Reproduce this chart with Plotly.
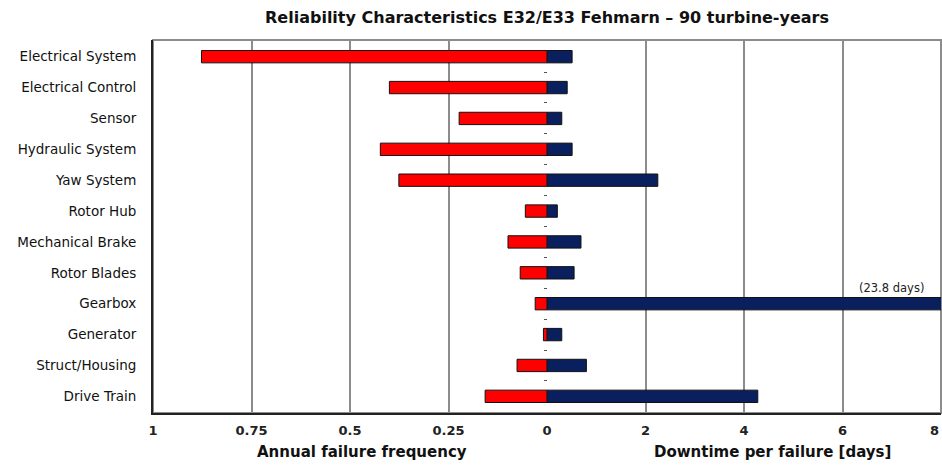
import plotly.graph_objects as go

categories = ["Electrical System", "Electrical Control", "Sensor", "Hydraulic System",
              "Yaw System", "Rotor Hub", "Mechanical Brake", "Rotor Blades",
              "Gearbox", "Generator", "Struct/Housing", "Drive Train"]
failure_freq = [0.877, 0.40, 0.223, 0.423, 0.376, 0.055, 0.099, 0.068, 0.030, 0.009, 0.076, 0.157]
downtime_days = [0.51, 0.41, 0.30, 0.51, 2.25, 0.21, 0.69, 0.55, 23.8, 0.30, 0.80, 4.28]

left_ticks = [1, 0.75, 0.5, 0.25, 0]
left_ticktext = ["1", "0.75", "0.5", "0.25", "0"]
right_ticks = [2, 4, 6]
right_ticktext = ["2", "4", "6"]
right_max = 8
divider_ticks = [i + 0.5 for i in range(len(categories) - 1)]

FONT = "DejaVu Sans, Verdana, sans-serif"
RED = "#FF0000"
NAVY = "#0A1F5E"
GRID = "#8C8C8C"
DARK = "#222222"

fig = go.Figure()
fig.add_trace(go.Bar(
    x=failure_freq, y=categories, orientation="h", xaxis="x", yaxis="y",
    marker=dict(color=RED, line=dict(color="#111111", width=1)),
    width=0.4, showlegend=False, hoverinfo="x+y"))
fig.add_trace(go.Bar(
    x=downtime_days, y=categories, orientation="h", xaxis="x2", yaxis="y",
    marker=dict(color=NAVY, line=dict(color="#111111", width=1)),
    width=0.4, showlegend=False, hoverinfo="x+y"))
# invisible helper trace so the centre divider-tick axis is drawn
fig.add_trace(go.Scatter(x=[None], y=[None], xaxis="x2", yaxis="y2",
                         showlegend=False, hoverinfo="skip"))

gearbox_idx = categories.index("Gearbox")
yrange = [len(categories) - 0.46, -0.54]
tickfont = dict(size=13, family=FONT, color=DARK, weight="bold")

fig.update_layout(
    width=942, height=466,
    margin=dict(l=153, r=1, t=40, b=53, pad=0, autoexpand=False),
    paper_bgcolor="white", plot_bgcolor="white",
    font=dict(family=FONT, color="black", size=12),
    title=dict(text="<b>Reliability Characteristics E32/E33 Fehmarn \u2013 90 turbine-years</b>",
               x=0.5, xref="paper", xanchor="center", y=1 - 17 / 466, yanchor="middle",
               font=dict(size=16, family=FONT, color="#111111")),
    xaxis=dict(domain=[0, 0.5], range=[1, 0], anchor="y", automargin=False,
               tickmode="array", tickvals=left_ticks, ticktext=left_ticktext,
               showgrid=True, gridcolor=GRID, gridwidth=1.5,
               zeroline=False, showline=True, linecolor=DARK, linewidth=2,
               ticks="", ticklabelstandoff=4, ticklabeloverflow="allow",
               tickfont=tickfont),
    xaxis2=dict(domain=[0.5, 1], range=[0, right_max], anchor="y", automargin=False,
                tickmode="array", tickvals=right_ticks, ticktext=right_ticktext,
                showgrid=True, gridcolor=GRID, gridwidth=1.5,
                zeroline=False, showline=True, linecolor=DARK, linewidth=2,
                ticks="", ticklabelstandoff=4, ticklabeloverflow="allow",
                tickfont=tickfont),
    yaxis=dict(domain=[0, 1], anchor="x", type="category", categoryorder="array",
               categoryarray=categories, range=yrange, automargin=False,
               showgrid=False, zeroline=False, ticks="", ticklabelstandoff=12,
               showline=True, linecolor=DARK, linewidth=2,
               tickfont=dict(size=13.5, family=FONT, color="#111111")),
    yaxis2=dict(overlaying="y", anchor="free", position=0.5, side="left",
                range=yrange, tickmode="array", automargin=False,
                tickvals=divider_ticks, ticks="outside", ticklen=3, tickcolor="#555555",
                showticklabels=False, showgrid=False, zeroline=False, showline=False),
    bargap=0.6,
    shapes=[dict(type="rect", xref="paper", yref="paper", x0=0, x1=1, y0=0, y1=1,
                 line=dict(color=GRID, width=2), layer="below")],
    annotations=[
        dict(text=f"<b>{right_max}</b>", xref="x2", yref="paper", x=right_max, y=-17 / 373,
             xanchor="right", yanchor="middle", showarrow=False, font=tickfont),
        dict(text="<b>Annual failure frequency</b>", xref="paper", yref="paper",
             x=0.265, y=-0.105, xanchor="center", yanchor="middle", showarrow=False,
             font=dict(size=15, family=FONT, color="#111111")),
        dict(text="<b>Downtime per failure [days]</b>", xref="paper", yref="paper",
             x=0.786, y=-0.105, xanchor="center", yanchor="middle", showarrow=False,
             font=dict(size=15, family=FONT, color="#111111")),
        dict(text="(23.8 days)", xref="x2", yref="y", x=7, y=categories[gearbox_idx],
             yshift=16, showarrow=False, xanchor="center", yanchor="middle",
             font=dict(size=11.5, family=FONT, color=DARK)),
    ],
)

fig.write_html(
    "out.html",
    config={"displayModeBar": False},
    post_script="document.body.style.margin='0';document.body.style.overflow='hidden';",
)
